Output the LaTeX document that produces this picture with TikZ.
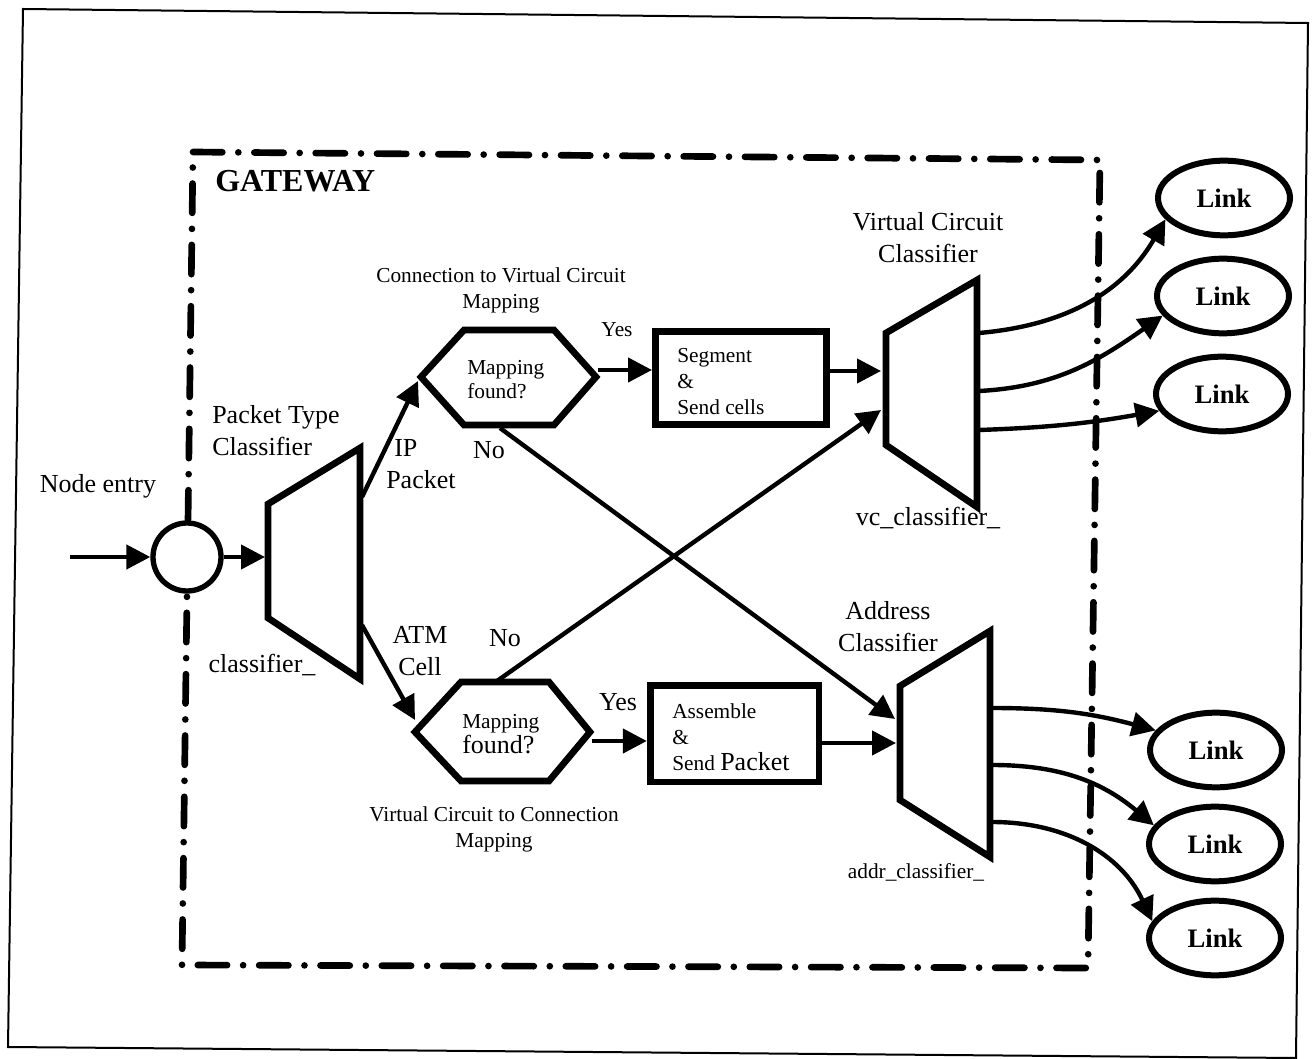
\documentclass[tikz,border=0pt]{standalone}
\usepackage{fontspec}
\setmainfont{Liberation Serif}
\usetikzlibrary{arrows.meta,shapes.geometric}
\newcommand\szL{\fontsize{19.5pt}{24pt}\selectfont}
\newcommand\szS{\fontsize{16pt}{19.5pt}\selectfont}
\begin{document}
\begin{tikzpicture}[x=0.75pt,y=-0.75pt,
  shapeline/.style={line width=5pt, line join=miter, fill=white},
  conn/.style={line width=3.3pt, -{Triangle[length=18pt,width=18pt]}},
  lbl/.style={font=\szL, inner sep=0pt},
  slbl/.style={font=\szS, inner sep=0pt},
  linknode/.style={ellipse, draw, line width=4.5pt, fill=white, minimum width=99pt, minimum height=56pt, font=\bfseries\fontsize{20pt}{24pt}\selectfont, inner sep=0pt},
  gw/.style={line width=5pt, line cap=round, dash pattern=on 22pt off 12pt on 0pt off 12pt},
  boxnode/.style={draw, line width=5pt, fill=white, inner sep=0pt}
]
\useasboundingbox (0,0) rectangle (1315,1059);
% outer frame
\draw[line width=1.5pt] (23,9) -- (1308,23) -- (1296,1058) -- (8,1047) -- cycle;
% gateway boundary
\draw[gw] (193,152) -- (1100,160) -- (1088,968) -- (182,965) -- cycle;
\node[font=\bfseries\fontsize{24pt}{28pt}\selectfont, inner sep=0pt, anchor=west] (gwlbl) at (215,181) {GATEWAY};

% node entry
\node[lbl] (entrylbl) at (98,486) {Node entry};
\node[circle, draw, line width=4pt, fill=white, minimum size=51pt, inner sep=0pt] (circ) at (187,557) {};
\coordinate (src) at (70,557);
\draw[conn] (src) -- (circ.west);

% packet type classifier
\draw[shapeline] (268,504) -- (360,448) -- (360,679) -- (268,618) -- cycle;
\coordinate (ptIn) at (265,557);
\coordinate (ptIP) at (362,497);
\coordinate (ptATM) at (362,625);
\draw[conn] (circ.east) -- (ptIn);
\node[lbl, anchor=west, align=left] (ptlbl) at (212,431) {Packet Type\\Classifier};
\node[lbl] (ptname) at (262,665) {classifier\_};

% upper hexagon
\draw[shapeline] (421,377) -- (464,330) -- (554,330) -- (596,377) -- (554,425) -- (464,425) -- cycle;
\node[slbl, anchor=west, align=left, font=\fontsize{16pt}{18pt}\selectfont] (h1) at (467,380) {Mapping\\found?};
\coordinate (h1L) at (418,381);
\coordinate (h1R) at (598,370);
\coordinate (h1B) at (500,428);
\node[slbl, align=center] (c2vc) at (501,290) {Connection to Virtual Circuit\\Mapping};

% lower hexagon
\draw[shapeline] (415,732) -- (461,682) -- (549,682) -- (590,732) -- (549,781) -- (461,781) -- cycle;
\node[anchor=west, align=left, inner sep=0pt] (h2) at (462,734) {\fontsize{16pt}{18pt}\selectfont Mapping\\[1pt]\fontsize{19.5pt}{20pt}\selectfont found?};
\coordinate (h2L) at (415,720);
\coordinate (h2R) at (592,741);
\coordinate (h2T) at (497,681);
\node[slbl, align=center] (vc2c) at (494,829) {Virtual Circuit to Connection\\Mapping};

% IP / ATM branches
\draw[conn] (ptIP) -- (h1L);
\draw[conn] (ptATM) -- (h2L);
\node[lbl, anchor=west, align=left] (iplbl) at (386,464) {\hspace{6pt}IP\\Packet};
\node[lbl, align=center] (atmlbl) at (420,651) {ATM\\Cell};

% segment box
\node[boxnode, minimum width=128.5pt, minimum height=70pt] (seg) at (741,378) {};
\node[slbl, anchor=west, align=left] (segtxt) at (677,382) {Segment\\\&\\Send cells};
% assemble box
\node[boxnode, minimum width=126.5pt, minimum height=72.5pt] (asm) at (734.5,733.5) {};
\node[anchor=west, align=left, inner sep=0pt, font=\szS] (asmtxt) at (672,737) {Assemble\\\&\\Send {\fontsize{19.5pt}{20pt}\selectfont Packet}};

% VC classifier
\draw[shapeline] (886,333) -- (977,280) -- (977,507) -- (886,445) -- cycle;
\coordinate (vcIn) at (881,371);
\coordinate (vcIn2) at (881,410);
\coordinate (vcO1) at (979,333);
\coordinate (vcO2) at (979,391);
\coordinate (vcO3) at (979,430);
\node[lbl, align=center] (vclbl) at (928,238) {Virtual Circuit\\Classifier};
\node[lbl] (vcname) at (928,518) {vc\_classifier\_};

% address classifier
\draw[shapeline] (900,686) -- (990,631) -- (990,857) -- (900,800) -- cycle;
\coordinate (adIn) at (896,743);
\coordinate (adIn2) at (895,719);
\coordinate (adO1) at (992,708);
\coordinate (adO2) at (992,765);
\coordinate (adO3) at (992,822);
\node[lbl, align=center] (adlbl) at (888,627) {Address\\Classifier};
\node[slbl] (adname) at (916,872) {addr\_classifier\_};

% yes / no
\node[slbl] (yes1) at (617,330) {Yes};
\node[lbl] (yes2) at (618,702) {Yes};
\node[lbl] (no1) at (489,450) {No};
\node[lbl] (no2) at (505,638) {No};

% connectors
\draw[conn] (h1R) -- (h1R -| seg.west);
\draw[conn] (seg.east |- vcIn) -- (vcIn);
\draw[conn] (h2R) -- (h2R -| asm.west);
\draw[conn] (asm.east |- adIn) -- (adIn);
\draw[conn] (h1B) -- (adIn2);
\draw[conn] (h2T) -- (vcIn2);

% links
\node[linknode] (l1) at (1224,198) {Link};
\node[linknode] (l2) at (1223,296) {Link};
\node[linknode] (l3) at (1222,394) {Link};
\node[linknode] (l4) at (1216,750) {Link};
\node[linknode] (l5) at (1215,844) {Link};
\node[linknode] (l6) at (1215,938) {Link};

\draw[conn] (vcO1) to[out=5,in=-120] (l1.200);
\draw[conn] (vcO2) to[out=3,in=-145] (l2.198);
\draw[conn] (vcO3) to[out=2,in=-170] (l3.195);
\draw[conn] (adO1) to[out=0,in=165] (l4.162);
\draw[conn] (adO2) to[out=0,in=140] (l5.163);
\draw[conn] (adO3) to[out=0,in=115] (l6.165);
\end{tikzpicture}
\end{document}
